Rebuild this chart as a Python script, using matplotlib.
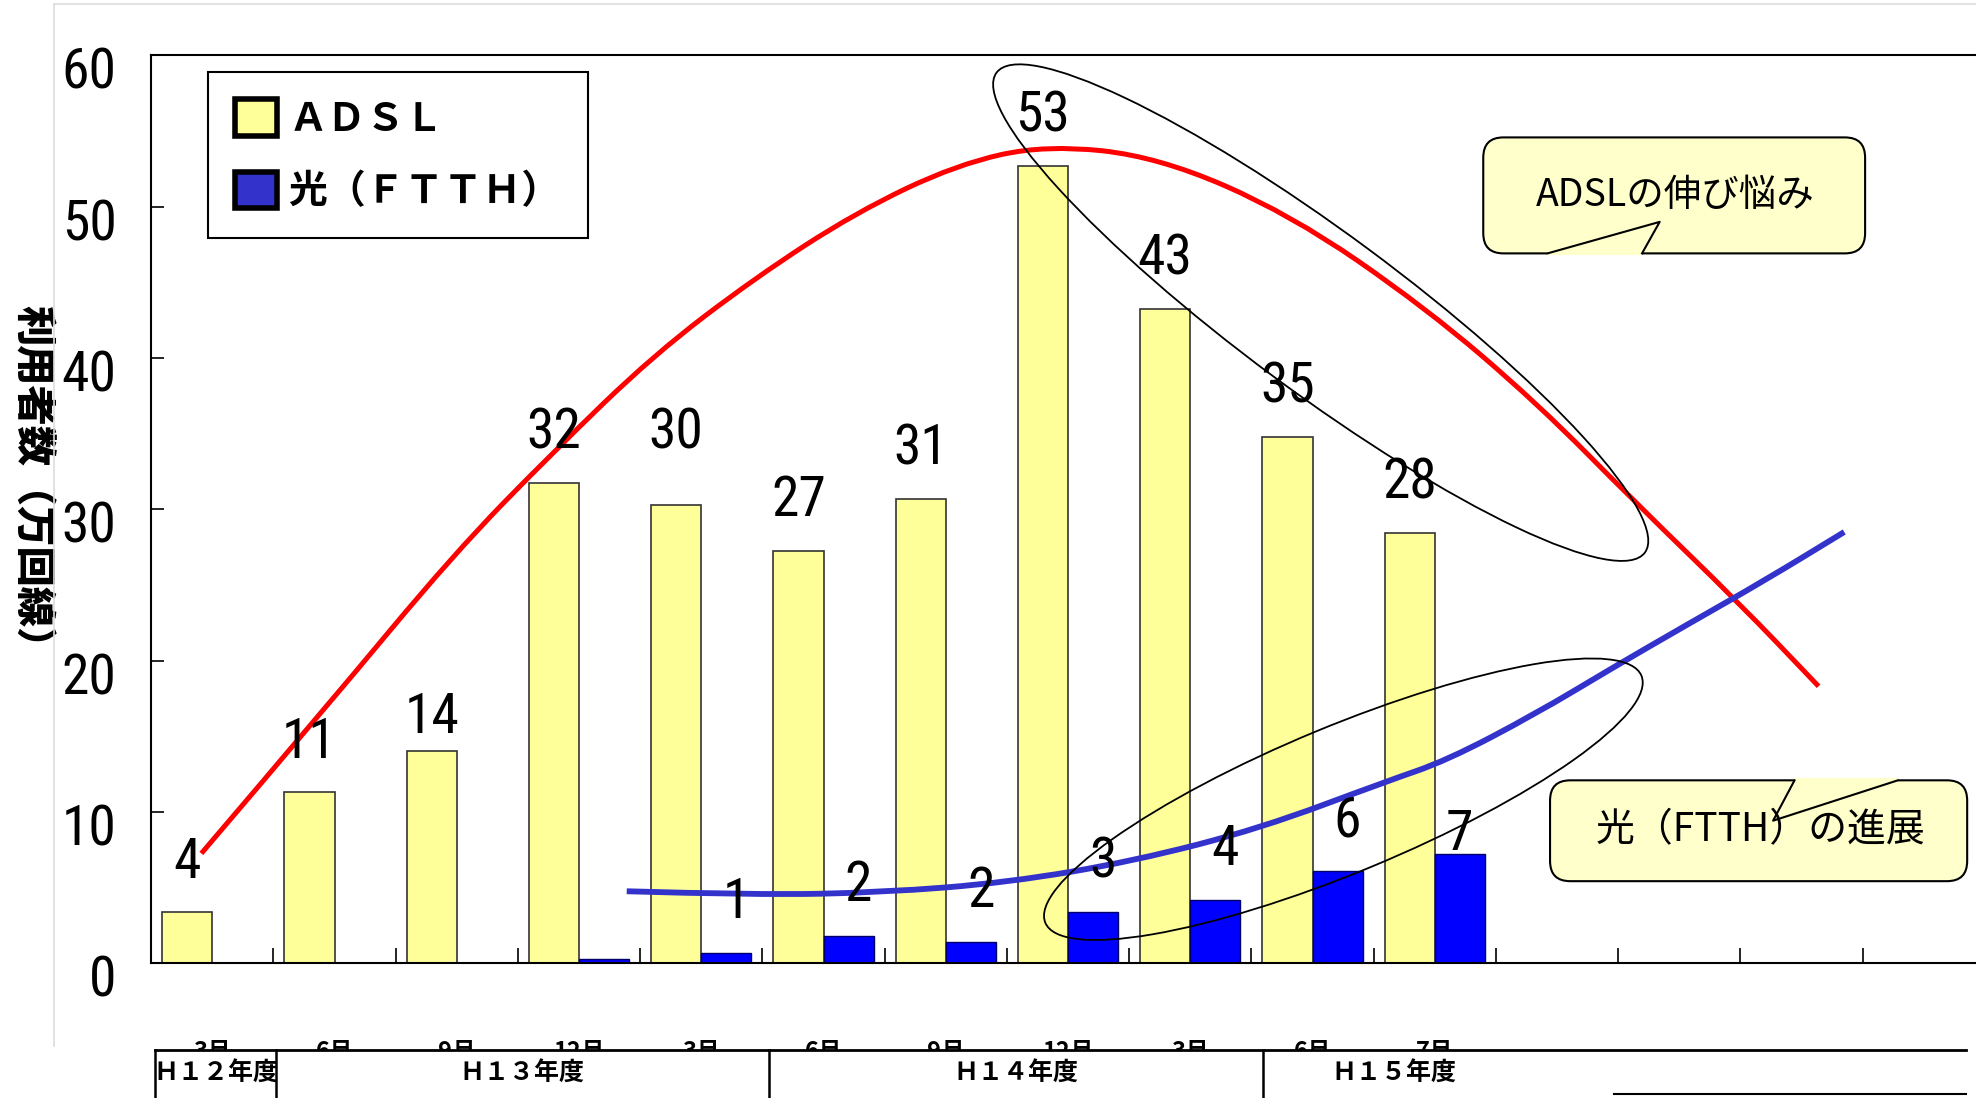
import matplotlib
matplotlib.use('Agg')
import matplotlib.pyplot as plt
import numpy as np
from matplotlib.path import Path
from matplotlib.patches import PathPatch, Patch, Ellipse, FancyBboxPatch, Rectangle, Polygon
from matplotlib.transforms import ScaledTranslation
from matplotlib.font_manager import FontProperties

plt.rcParams['font.family'] = ['Noto Sans CJK JP', 'DejaVu Sans']

# ---------------- data ----------------
periods = ["3月", "6月", "9月", "12月", "3月", "6月", "9月", "12月", "3月", "6月", "7月"]
adsl = [3.35, 11.3, 14.0, 31.75, 30.3, 27.25, 30.7, 52.7, 43.25, 34.8, 28.4]
adsl_labels = ["4", "11", "14", "32", "30", "27", "31", "53", "43", "35", "28"]
ftth_start = 3
ftth = [0.25, 0.7, 1.8, 1.4, 3.4, 4.2, 6.1, 7.2]
ftth_labels = ["", "1", "2", "2", "3", "4", "6", "7"]
fiscal_years = ["Ｈ１２年度", "Ｈ１３年度", "Ｈ１４年度", "Ｈ１５年度"]
n_slots = 15

# trend curves (hand drawn in the original)
red_x = [-0.09, 0.94, 1.97, 2.79, 3.61, 4.44, 5.26, 6.09, 6.82, 7.74, 8.82, 9.93, 10.84, 11.66, 12.49, 13.14]
red_y = [7.25, 17.0, 27.0, 33.8, 40.2, 45.3, 49.6, 52.8, 54.1, 53.3, 49.5, 43.3, 37.0, 30.3, 23.8, 18.3]
blue_x = [3.39, 4.45, 5.48, 6.51, 7.54, 8.57, 9.60, 10.10, 10.83, 11.45, 12.07, 12.70, 13.35]
blue_y = [4.75, 4.5, 4.67, 5.33, 6.75, 8.9, 12.0, 13.4, 16.5, 19.5, 22.4, 25.3, 28.5]

NUM = FontProperties(family=['Roboto Condensed', 'DejaVu Sans'], stretch='condensed', size=40)
JP = ['Noto Sans CJK JP', 'DejaVu Sans']

W, H = 1568.0, 871.0  # layout reference frame
fig = plt.figure(figsize=(19.76, 10.98), dpi=100)
fig.patch.set_facecolor('white')

ax = fig.add_axes([120 / W, (H - 764) / H, (120 + 97 * n_slots) / W - 120 / W, (764 - 44) / H])
ax.set_xlim(-0.5, n_slots - 0.5)
ax.set_ylim(0, 60)

x = np.arange(len(adsl))
bw = 0.41
ax.bar(x - bw / 2, adsl, width=bw, color='#FFFF99', edgecolor='#333333', linewidth=1.2, zorder=2)
xf = x[ftth_start:]
ax.bar(xf + bw / 2, ftth, width=bw, color='#0000FF', edgecolor='#000066', linewidth=1.0, zorder=2)

# value labels
adsl_dy = {2: -12, 4: 16}
for i, (v, t) in enumerate(zip(adsl, adsl_labels)):
    ax.annotate(t, (i - bw / 2, v), xytext=(0, 36 + adsl_dy.get(i, 0)), textcoords='offset points',
                ha='center', va='center', fontproperties=NUM, zorder=4)
ftth_dy = {7: -22}
for j, (v, t) in enumerate(zip(ftth, ftth_labels)):
    if not t:
        continue
    i = j + ftth_start
    ax.annotate(t, (i + bw / 2, v), xytext=(7 if i != 10 else 0, 36 + ftth_dy.get(j, 0)),
                textcoords='offset points', ha='center', va='center', fontproperties=NUM,
                zorder=4)

# trend curves
def smooth_path(xs, ys):
    verts = [(xs[0], ys[0])]
    codes = [Path.MOVETO]
    for i in range(1, len(xs) - 1):
        verts += [(xs[i], ys[i]), ((xs[i] + xs[i + 1]) / 2, (ys[i] + ys[i + 1]) / 2)]
        codes += [Path.CURVE3, Path.CURVE3]
    verts.append((xs[-1], ys[-1]))
    codes.append(Path.LINETO)
    return Path(verts, codes)

ax.add_patch(PathPatch(smooth_path(red_x, red_y), fill=False, edgecolor='#FF0000', linewidth=3.6,
                       zorder=3, capstyle='butt'))
ax.add_patch(PathPatch(smooth_path(blue_x, blue_y), fill=False, edgecolor='#3333CC', linewidth=4.2,
                       zorder=3, capstyle='butt'))

# axes styling
for s in ['left', 'top', 'bottom']:
    ax.spines[s].set_linewidth(1.5)
    ax.spines[s].set_color('black')
ax.spines['right'].set_visible(False)

ax.set_yticks(range(0, 61, 10))
ax.set_yticklabels([str(v) for v in range(0, 61, 10)], fontproperties=NUM)
ax.tick_params(axis='y', direction='in', length=9, width=1.2, pad=25)
off = ScaledTranslation(0, -0.125, fig.dpi_scale_trans)
for lab in ax.get_yticklabels():
    lab.set_transform(lab.get_transform() + off)

ax.set_xticks(x)
ax.set_xticklabels(periods, fontsize=17, weight='bold', family=JP)
ax.set_xticks(np.arange(0.5, n_slots - 0.5, 1), minor=True)
ax.tick_params(axis='x', which='major', length=0, pad=55)
ax.tick_params(axis='x', which='minor', direction='in', length=11, width=1.2)

# legend
handles = [Patch(facecolor='#FFFF99', edgecolor='black', linewidth=4),
           Patch(facecolor='#3333CC', edgecolor='black', linewidth=4)]
leg = ax.legend(handles, ['ＡＤＳＬ', '光（ＦＴＴＨ）'], loc='upper left',
                bbox_to_anchor=(165 / W, 1 - 57 / H), bbox_transform=fig.transFigure,
                frameon=True, fancybox=False, edgecolor='black', framealpha=1,
                borderpad=0.7, handlelength=1.07, handleheight=1.07, handletextpad=0.3,
                labelspacing=0.85, borderaxespad=0,
                prop=FontProperties(family=JP, weight='bold', size=28))
leg.get_frame().set_linewidth(1.5)
leg.set_zorder(6)

# y label
fig.text(25 / W, 1 - 386 / H, '利用者数（万回線）', rotation=270, ha='center', va='center',
         fontsize=29, weight='heavy', family=JP)

# ---------------- overlay (annotations, table) ----------------
ov = fig.add_axes([0, 0, 1, 1], zorder=5)
ov.set_xlim(0, W)
ov.set_ylim(H, 0)
ov.axis('off')
ov.patch.set_alpha(0)

# faint slide frame
ov.plot([43, 43], [3, 830], color='#DDDDDD', lw=1.2)
ov.plot([43, W], [3, 3], color='#DDDDDD', lw=1.2)

# ellipses
ov.add_patch(Ellipse((1048, 248), 640, 126, angle=36.5, fill=False, edgecolor='black', lw=1.3))
ov.add_patch(Ellipse((1066, 634), 512, 116, angle=-22.5, fill=False, edgecolor='black', lw=1.3))

# callouts
fill = '#FFFFCC'
b1 = FancyBboxPatch((1177, 109), 303, 92, boxstyle='round,pad=0,rounding_size=16',
                    facecolor=fill, edgecolor='black', lw=1.5)
ov.add_patch(b1)
ov.add_patch(Polygon([(1228, 201), (1317, 176), (1303, 201)], closed=True, facecolor=fill, edgecolor='none'))
ov.plot([1229.5, 1301.5], [201, 201], color=fill, lw=3)
ov.plot([1228, 1317, 1303], [201, 176, 201], color='black', lw=1.5)
ov.text(1329, 155, 'ADSLの伸び悩み', ha='center', va='center', fontsize=27, family=JP)

b2 = FancyBboxPatch((1230, 619), 331, 80, boxstyle='round,pad=0,rounding_size=16',
                    facecolor=fill, edgecolor='black', lw=1.5)
ov.add_patch(b2)
ov.add_patch(Polygon([(1424, 619), (1407, 651), (1506, 619)], closed=True, facecolor=fill, edgecolor='none'))
ov.plot([1425.5, 1504.5], [619, 619], color=fill, lw=3)
ov.plot([1424, 1407, 1506], [619, 651, 619], color='black', lw=1.5)
ov.text(1397, 659, '光（FTTH）の進展', ha='center', va='center', fontsize=28, family=JP)

# bottom fiscal-year table (covers the lower part of the month labels)
ov.add_patch(Rectangle((0, 833), W, H - 833 + 5, facecolor='white', edgecolor='none'))
ov.plot([123, 1560], [833, 833], color='black', lw=2)
for xv in [123, 219, 610, 1002]:
    ov.plot([xv, xv], [833, H + 2], color='black', lw=1.8)
ov.plot([1281, 1560], [868, 868], color='black', lw=1.5)
cells = [(123, 219), (219, 610), (610, 1002), (1002, 1210)]
for (a, b), t in zip(cells, fiscal_years):
    ov.text((a + b) / 2, 852, t, ha='center', va='center', fontsize=18, weight='bold', family=JP)

fig.savefig('out.png', dpi=100, facecolor='white')
